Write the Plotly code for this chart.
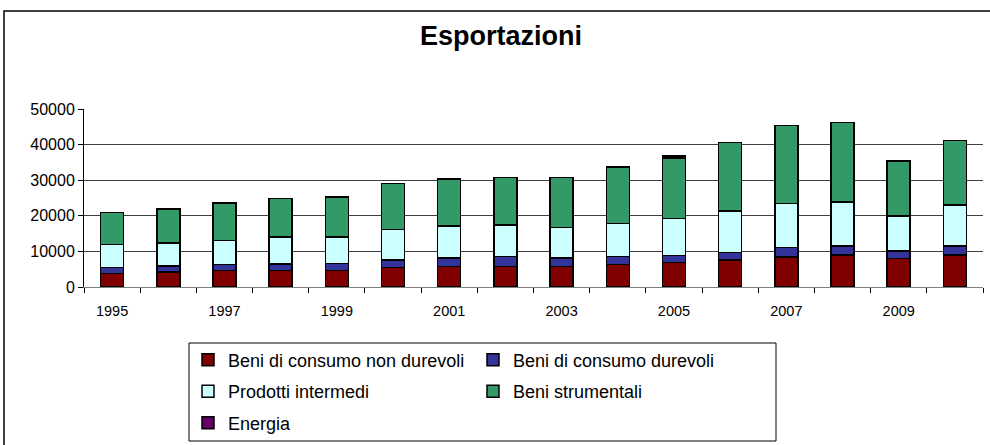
import plotly.graph_objects as go

# Export values by category, 1995-2010
years = list(range(1995, 2011))
non_durevoli = [3750, 4200, 4600, 4600, 4600, 5530, 5800, 5800, 5800, 6380, 6850, 7600, 8440, 9000, 8070, 9000]
durevoli = [1690, 1700, 1700, 1800, 2050, 2070, 2350, 2830, 2350, 2250, 2050, 2150, 2630, 2540, 2060, 2540]
intermedi = [6460, 6400, 6800, 7700, 7450, 8600, 8950, 8820, 8550, 9270, 10330, 11650, 12380, 12380, 9760, 11440]
strumentali = [9000, 9550, 10450, 10750, 11150, 12900, 13300, 13320, 14070, 15870, 17070, 19200, 21950, 22330, 15570, 18110]
energia = [0, 0, 0, 0, 0, 0, 0, 0, 0, 0, 450, 0, 0, 0, 0, 0]

label_years = [1995, 1997, 1999, 2001, 2003, 2005, 2007, 2009]
y_ticks = [0, 10000, 20000, 30000, 40000, 50000]

FONT = "Liberation Sans, Arial, sans-serif"

series = [
    ("Beni di consumo non durevoli", non_durevoli, "#800000", "legend"),
    ("Beni di consumo durevoli", durevoli, "#333399", "legend"),
    ("Prodotti intermedi", intermedi, "#CCFFFF", "legend2"),
    ("Beni strumentali", strumentali, "#339966", "legend2"),
    ("Energia", energia, "#660066", "legend3"),
]

fig = go.Figure()
for name, vals, color, leg in series:
    fig.add_trace(go.Bar(
        x=years, y=vals, name=name, width=0.41,
        marker=dict(color=color, line=dict(color="black", width=1.5)),
        legend=leg,
    ))

# plot area is 84..983 px wide, 109..287 px tall
def px_x(v):
    return (v - 84) / 899

def px_y(v):
    return (287 - v) / 178

leg_common = dict(
    orientation="h", xanchor="left", yanchor="middle", traceorder="normal",
    x=px_x(188), font=dict(family=FONT, size=18, color="black"),
    bgcolor="rgba(0,0,0,0)", borderwidth=0, entrywidth=240,
)

fig.update_layout(
    barmode="stack",
    width=990, height=445,
    margin=dict(l=84, r=7, t=109, b=158, autoexpand=False),
    paper_bgcolor="white", plot_bgcolor="white",
    font=dict(family=FONT, color="black"),
    title=dict(text="<b>Esportazioni</b>", x=0.506, xanchor="center",
               y=1 - 36 / 445, yanchor="middle",
               font=dict(family=FONT, size=27, color="black")),
    legend=dict(y=px_y(360), **leg_common),
    legend2=dict(y=px_y(391.5), **leg_common),
    legend3=dict(y=px_y(423), **leg_common),
    shapes=[
        dict(type="rect", xref="paper", yref="paper",
             x0=px_x(189), x1=px_x(776), y0=px_y(441), y1=px_y(343),
             line=dict(color="black", width=1), fillcolor="rgba(0,0,0,0)"),
        dict(type="rect", xref="paper", yref="paper",
             x0=px_x(4), x1=px_x(1000), y0=px_y(460), y1=px_y(11),
             line=dict(color="black", width=1.5), fillcolor="rgba(0,0,0,0)"),
    ],
)

fig.update_xaxes(
    range=[1994.5, 2010.5],
    tickmode="array", tickvals=label_years, ticktext=[str(y) for y in label_years],
    ticks="", ticklabelstandoff=11,
    tickfont=dict(family=FONT, size=14.5, color="black"),
    showline=True, linecolor="#808080", linewidth=1,
    showgrid=False, zeroline=False,
    minor=dict(tick0=1994.5, dtick=1, ticks="outside", ticklen=5,
               tickcolor="black", tickwidth=1, showgrid=False),
)

fig.update_yaxes(
    range=[0, 50000],
    tickmode="array", tickvals=y_ticks, ticktext=[str(v) for v in y_ticks],
    ticks="outside", ticklen=5, tickcolor="black",
    tickfont=dict(family=FONT, size=16, color="black"),
    showline=True, linecolor="black", linewidth=1,
    showgrid=True, gridcolor="#404040", gridwidth=1,
    zeroline=False,
)

# page has a default 8px body margin; drop it so the figure sits at the window origin
fig.write_html("out.html", config={"displayModeBar": False},
               post_script="document.body.style.margin = '0px';")
